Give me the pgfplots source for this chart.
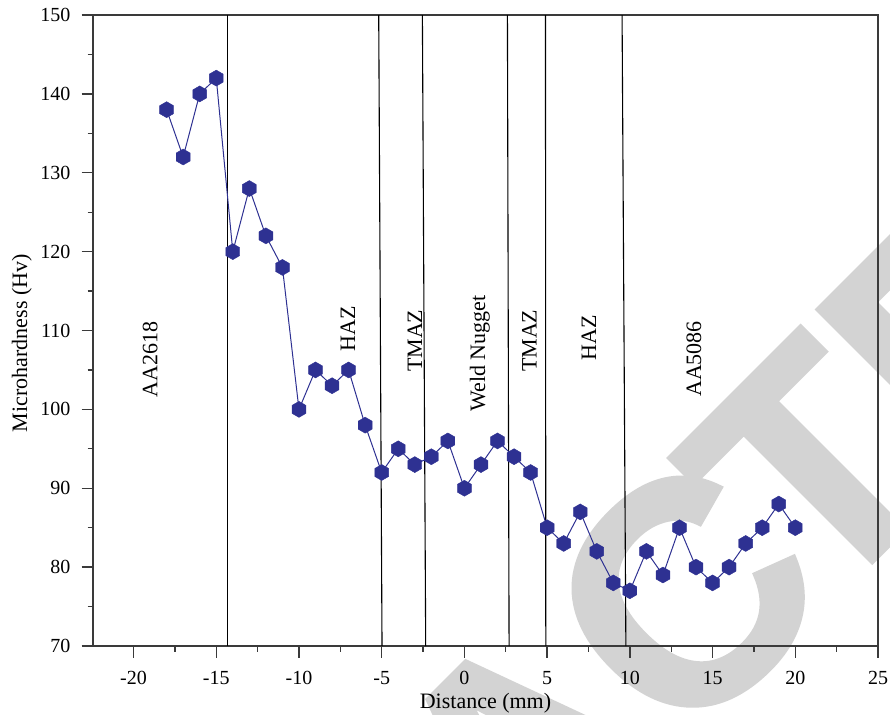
\documentclass[border=0pt]{standalone}
\usepackage{pgfplots}
\pgfplotsset{compat=1.18}
\usepackage{fontspec}
\setmainfont{Liberation Serif}
\newfontfamily\wmfont{Liberation Sans Bold}[FakeBold=1.5]

\definecolor{hexblue}{HTML}{2E3192}
\definecolor{wmgray}{RGB}{211,211,211}
\definecolor{axgray}{HTML}{3A3A3A}

% filled hexagon with a vertex at the top
\pgfdeclareplotmark{hexagon}{%
  \pgfpathmoveto{\pgfqpointpolar{90}{\pgfplotmarksize}}%
  \pgfpathlineto{\pgfqpointpolar{150}{\pgfplotmarksize}}%
  \pgfpathlineto{\pgfqpointpolar{210}{\pgfplotmarksize}}%
  \pgfpathlineto{\pgfqpointpolar{270}{\pgfplotmarksize}}%
  \pgfpathlineto{\pgfqpointpolar{330}{\pgfplotmarksize}}%
  \pgfpathlineto{\pgfqpointpolar{30}{\pgfplotmarksize}}%
  \pgfpathclose
  \pgfusepathqfillstroke}

\pgfplotstableread{
x    hv
-18  138
-17  132
-16  140
-15  142
-14  120
-13  128
-12  122
-11  118
-10  100
-9   105
-8   103
-7   105
-6   98
-5   92
-4   95
-3   93
-2   94
-1   96
0    90
1    93
2    96
3    94
4    92
5    85
6    83
7    87
8    82
9    78
10   77
11   82
12   79
13   85
14   80
15   78
16   80
17   83
18   85
19   88
20   85
}\hardness

\begin{document}
\begin{tikzpicture}[x=1pt,y=1pt]
% diagonal stamp behind the chart
\node[rotate=45, anchor=base west, inner sep=0pt, text=wmgray,
      font=\wmfont\fontsize{157.5}{160}\selectfont]
      at (410,50) {\makebox[0pt][r]{RETRAC\kern-15pt}TED};

\begin{axis}[
  at={(46.5pt,34pt)}, anchor=south west,
  scale only axis, width=392.5pt, height=315.5pt,
  xmin=-22.45, xmax=25, ymin=70, ymax=150,
  xtick={-20,-15,...,25}, ytick={70,80,...,150},
  minor x tick num=1, minor y tick num=1,
  tick align=outside, xtick pos=left, ytick pos=left,
  major tick length=5.75pt, minor tick length=2.75pt,
  axis line style={axgray, line width=0.65pt},
  every tick/.append style={axgray, line width=0.65pt},
  /pgf/number format/assume math mode=true,
  tick label style={font=\fontsize{10}{12}\selectfont},
  yticklabel style={xshift=-2pt},
  xticklabel style={yshift=-3.5pt},
  label style={font=\fontsize{11}{13}\selectfont},
  xlabel={Distance (mm)}, ylabel={Microhardness (Hv)},
  xlabel style={yshift=3pt},
  ylabel style={at={(ticklabel cs:0.48)}, yshift=-2.5pt},
]
% zone boundaries
\addplot[black, line width=0.55pt] coordinates {(-14.30,150) (-14.30,70)};
\addplot[black, line width=0.55pt] coordinates {(-5.18,150) (-4.98,70)};
\addplot[black, line width=0.55pt] coordinates {(-2.54,150) (-2.34,70)};
\addplot[black, line width=0.55pt] coordinates {(2.60,150) (2.70,70)};
\addplot[black, line width=0.55pt] coordinates {(4.90,150) (4.92,70)};
\addplot[black, line width=0.55pt] coordinates {(9.53,150) (9.76,70)};

\addplot[hexblue, line width=0.5pt, mark=hexagon, mark size=4pt,
         mark options={fill=hexblue, draw=hexblue, line width=0.2pt}]
         table[x=x, y=hv] {\hardness};

\begin{scope}[every node/.style={rotate=90, font=\fontsize{11}{13}\selectfont}]
\node at (axis cs:-19.0,106.3) {AA2618};
\node at (axis cs:-7.04,110.2) {HAZ};
\node at (axis cs:-3.0,108.7) {TMAZ};
\node at (axis cs:0.93,107.1) {Weld Nugget};
\node at (axis cs:3.93,108.7) {TMAZ};
\node at (axis cs:7.52,109.1) {HAZ};
\node at (axis cs:13.87,106.4) {AA5086};
\end{scope}
\end{axis}
\pgfresetboundingbox
\useasboundingbox (0,0) rectangle (445,357);
\end{tikzpicture}
\end{document}
